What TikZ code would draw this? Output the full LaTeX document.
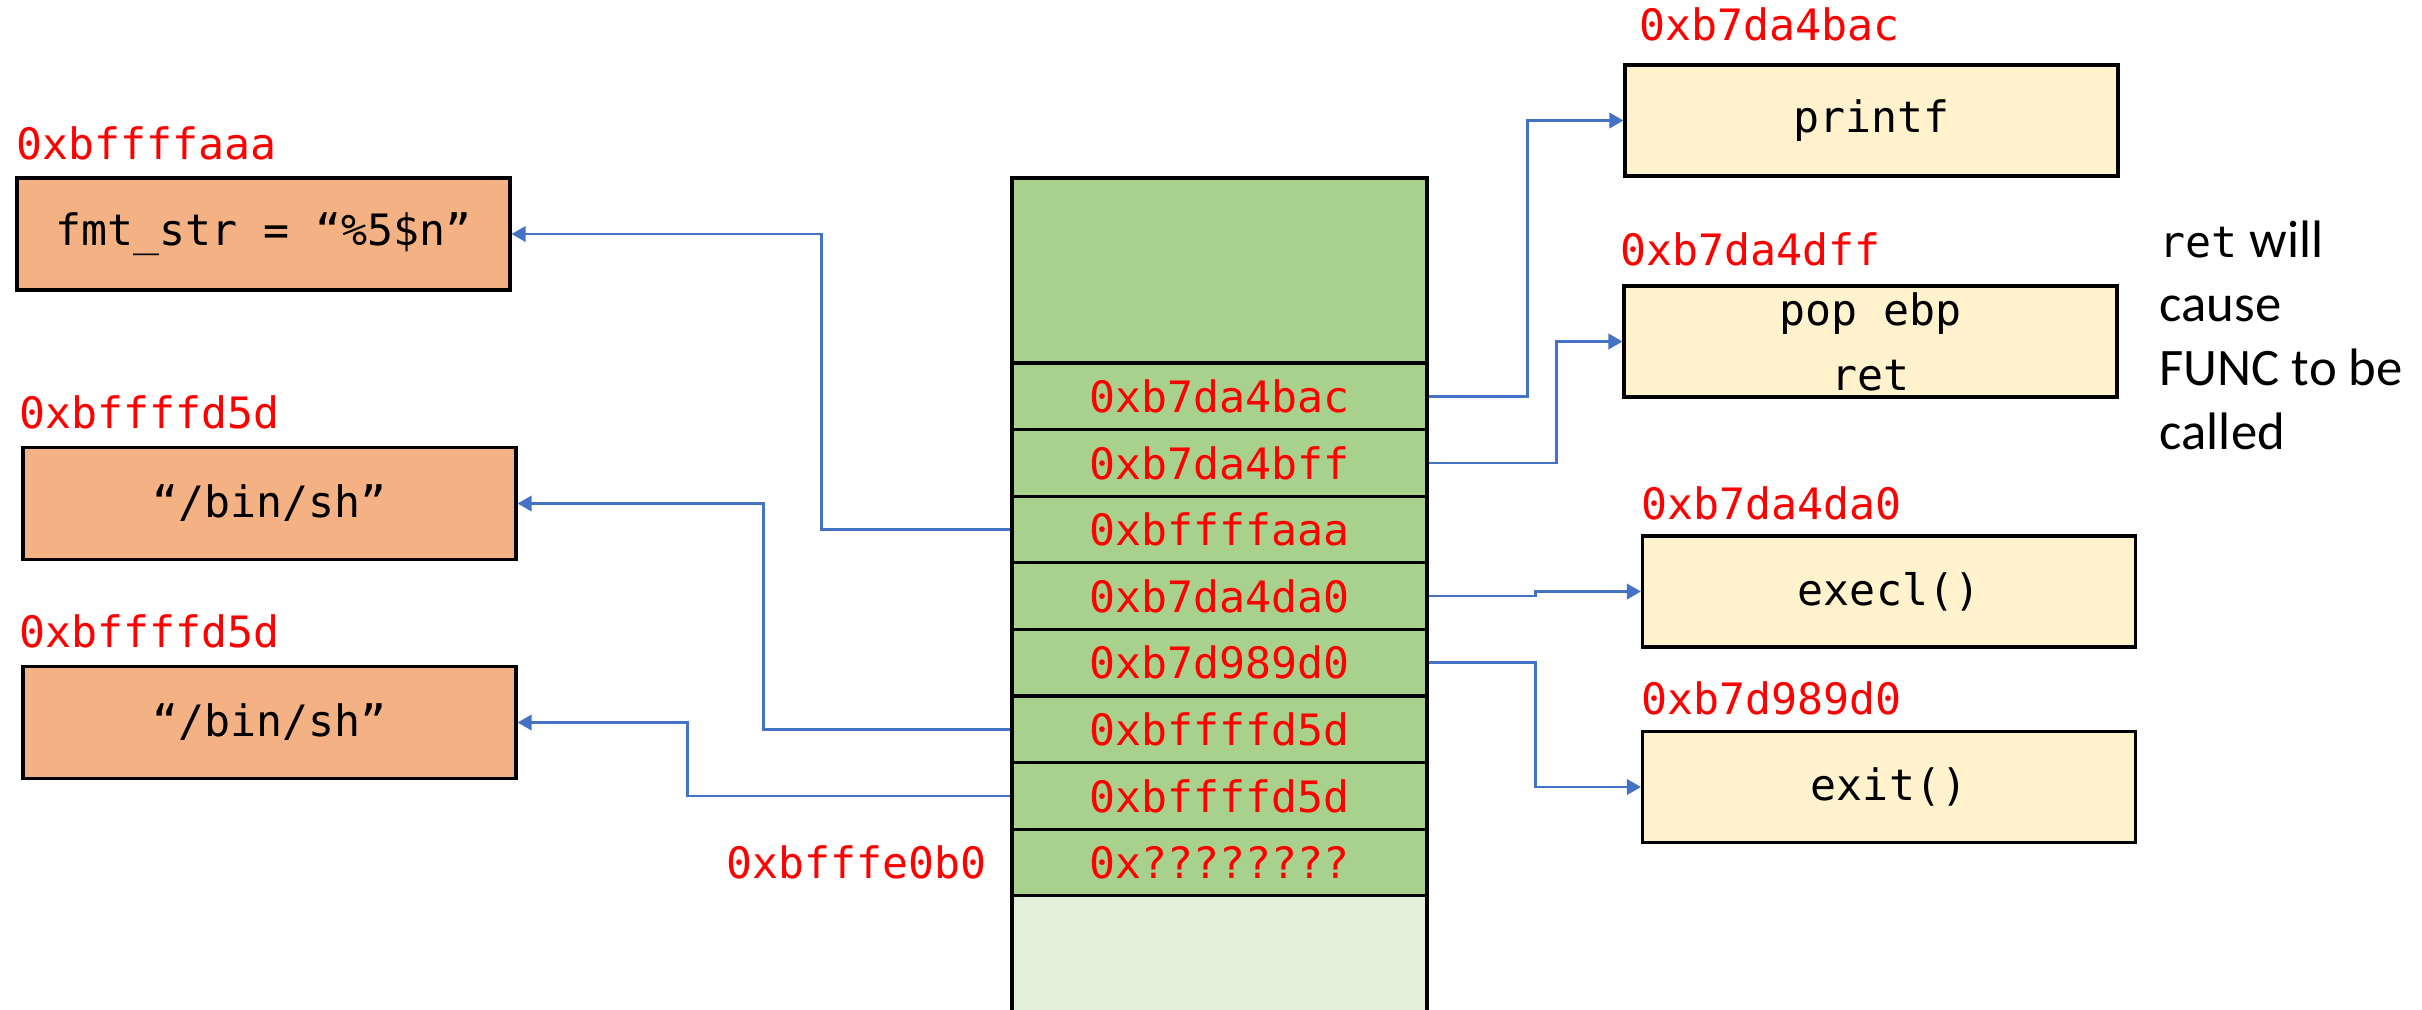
\documentclass[tikz,border=0pt]{standalone}
\usepackage{fontspec}
\setmainfont{Carlito}
\setmonofont{DejaVu Sans Mono}
\usetikzlibrary{arrows.meta,positioning}

\definecolor{stackgreen}{HTML}{A9D18E}
\definecolor{stackpale}{HTML}{E2EFDA}
\definecolor{strorange}{HTML}{F4B183}
\definecolor{funcyellow}{HTML}{FFF2CC}
\definecolor{ptrblue}{HTML}{4472C4}

\newcommand{\monosize}{\ttfamily\fontsize{12.3}{14.8}\selectfont}

\tikzset{
  cell/.style={draw,line width=0.9pt,fill=stackgreen,minimum width=4.15cm,minimum height=0.666cm,inner sep=0pt,text=red,font=\monosize},
  strbox/.style={draw,line width=0.9pt,fill=strorange,minimum width=4.93cm,minimum height=1.12cm,font=\monosize},
  funcbox/.style={draw,line width=0.9pt,fill=funcyellow,minimum width=4.93cm,minimum height=1.11cm,inner sep=0pt,align=center,font=\ttfamily\fontsize{12.3}{18.5}\selectfont},
  addr/.style={text=red,inner sep=0pt,anchor=base west,font=\monosize},
  ptr/.style={ptrblue,line width=0.7pt,->,>={Triangle[length=4pt,width=4.4pt]}}
}

\begin{document}
\begin{tikzpicture}
  \useasboundingbox (0,0) rectangle (24.22,-10.09);
  \clip (0,0) rectangle (24.22,-10.09);

  % the stack
  \node[cell,minimum height=1.85cm] (top) at (12.195,-2.705) {};
  \foreach \v [count=\n] in {0xb7da4bac,0xb7da4bff,0xbffffaaa,0xb7da4da0,0xb7d989d0,0xbffffd5d,0xbffffd5d,0x????????}
    \node[cell] (N\n) at (12.195,{-3.63-(\n-0.5)*0.666}) {\v};
  \node[cell,fill=stackpale,minimum height=1.3cm] (rest) at (12.195,-9.608) {};
  \node[addr,anchor=east] (esp) [left=0.23cm of N8] {0xbfffe0b0};

  % strings on the left
  \node[strbox] (fmt) at (2.635,-2.34) {fmt\_str = “\%5\$n”};
  \node[strbox] (sh1) at (2.695,-5.035) {“/bin/sh”};
  \node[strbox] (sh2) at (2.695,-7.225) {“/bin/sh”};
  \node[addr] (afmt) at ([yshift=0.17cm]fmt.north west) {0xbffffaaa};
  \node[addr] (ash1) at ([xshift=-0.03cm,yshift=0.17cm]sh1.north west) {0xbffffd5d};
  \node[addr] (ash2) at ([xshift=-0.03cm,yshift=0.17cm]sh2.north west) {0xbffffd5d};

  % code on the right
  \node[funcbox] (printf) at (18.715,-1.205) {printf};
  \node[funcbox] (pop) at (18.705,-3.415) {pop ebp\\ret};
  \node[funcbox] (execl) at (18.89,-5.915) {execl()};
  \node[funcbox] (exit) at (18.89,-7.87) {exit()};
  \node[addr] (aprintf) at ([xshift=0.15cm,yshift=0.23cm]printf.north west) {0xb7da4bac};
  \node[addr] (apop) at ([xshift=-0.03cm,yshift=0.19cm]pop.north west) {0xb7da4dff};
  \node[addr] (aexecl) at ([yshift=0.15cm]execl.north west) {0xb7da4da0};
  \node[addr] (aexit) at ([yshift=0.15cm]exit.north west) {0xb7d989d0};

  \node[anchor=north west,align=left,inner sep=0pt,font=\fontsize{15}{18.2}\selectfont] (note) at (21.59,-2.2)
    {{\monosize ret} will\\cause\\FUNC to be\\called};

  \draw[ptr] (N1.east) -- ++(0.99,0) |- (printf.west);
  \draw[ptr] (N2.east) -- ++(1.28,0) |- (pop.west);
  \draw[ptr] (N4.east) -- ++(1.07,0) |- (execl.west);
  \draw[ptr] (N5.east) -- ++(1.07,0) |- (exit.west);
  \draw[ptr] (N3.west) -- ++(-1.89,0) |- (fmt.east);
  \draw[ptr] (N6.west) -- ++(-2.47,0) |- (sh1.east);
  \draw[ptr] (N7.west) -- ++(-3.23,0) |- (sh2.east);
\end{tikzpicture}
\end{document}
